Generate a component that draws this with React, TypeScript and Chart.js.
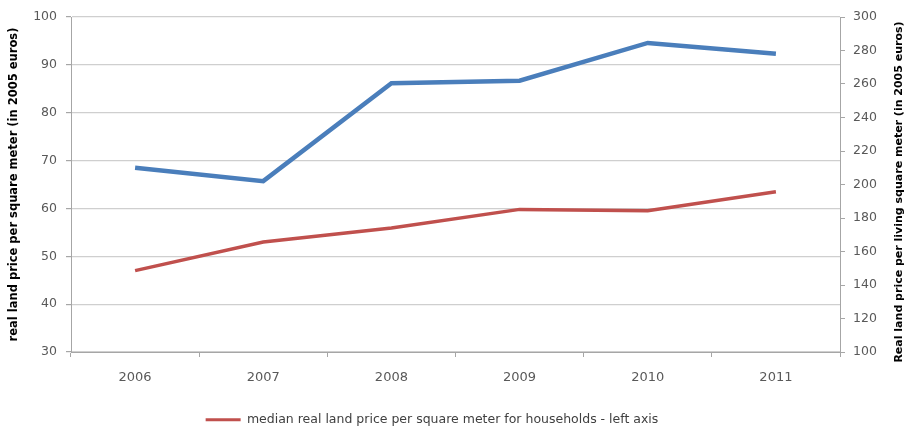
import React, { useEffect, useRef } from "react";
import { Chart, registerables } from "chart.js";

Chart.register(...registerables);

const years = ["2006", "2007", "2008", "2009", "2010", "2011"];
const householdPrices = [47.0, 53.0, 55.9, 59.8, 59.5, 63.5];
const livingPrices = [210, 202, 260.5, 262, 284.5, 278];
const householdLabel = "median real land price per square meter for households - left axis";
const livingLabel = "median real land price per living square meter - right axis";
const leftTitle = "real land price per square meter (in 2005 euros)";
const rightTitle = "Real land price per living square meter (in 2005 euros)";

const RED = "#c0504d";
const BLUE = "#4a7ebb";
const TICK = "#595959";
const AXIS = "#a6a6a6";
const FONT = "'DejaVu Sans', sans-serif";

const rightTitlePlugin = {
  id: "rightTitle",
  afterLayout(chart: any) {
    if (chart.legend) {
      chart.legend.right = chart.width - 48;
      chart.legend.top = chart.legend.top + 4;
      chart.legend.bottom = chart.legend.bottom + 4;
    }
  },
  afterDraw(chart: any) {
    const ctx = chart.ctx;
    ctx.save();
    ctx.translate(899, 192);
    ctx.rotate(-Math.PI / 2);
    ctx.textAlign = "center";
    ctx.textBaseline = "middle";
    ctx.fillStyle = "#000000";
    ctx.font = "bold 11px " + FONT;
    ctx.fillText(rightTitle, 0, 0);
    ctx.restore();
  },
};

export default function App() {
  const ref = useRef<HTMLCanvasElement | null>(null);
  useEffect(() => {
    if (!ref.current) return;
    const chart = new Chart(ref.current, {
      type: "line",
      data: {
        labels: years,
        datasets: [
          {
            label: householdLabel,
            data: householdPrices,
            borderColor: RED,
            backgroundColor: RED,
            borderWidth: 3.5,
            pointRadius: 0,
            tension: 0,
            yAxisID: "y",
          },
          {
            label: livingLabel,
            data: livingPrices,
            borderColor: BLUE,
            backgroundColor: BLUE,
            borderWidth: 4.5,
            pointRadius: 0,
            tension: 0,
            yAxisID: "y2",
          },
        ],
      },
      options: {
        responsive: false,
        animation: false,
        layout: { padding: { top: 17, left: 0, right: 0, bottom: 0 } },
        plugins: {
          tooltip: { enabled: false },
          legend: {
            position: "bottom",
            align: "center",
            labels: {
              font: { family: FONT, size: 12.5 },
              color: "#404040",
              boxWidth: 35,
              boxHeight: 3,
              padding: 7,
              generateLabels: () => [
                {
                  text: householdLabel,
                  fillStyle: RED,
                  strokeStyle: RED,
                  lineWidth: 0,
                  hidden: false,
                  datasetIndex: 0,
                  fontColor: "#404040",
                } as any,
              ],
            },
          },
        },
        scales: {
          x: {
            offset: true,
            grid: {
              offset: true,
              drawOnChartArea: false,
              drawTicks: true,
              tickLength: 5,
              color: AXIS,
            },
            border: { color: AXIS, width: 1 },
            ticks: {
              font: { family: FONT, size: 13 },
              color: TICK,
              padding: 13,
              maxRotation: 0,
            },
            afterFit: (scale: any) => {
              const lh = scale.chart.legend ? scale.chart.legend.height : 31;
              scale.height = 432 - 352 - lh;
            },
          },
          y: {
            position: "left",
            min: 30,
            max: 100,
            ticks: {
              stepSize: 10,
              font: { family: FONT, size: 12.5 },
              color: TICK,
              padding: 9,
            },
            grid: {
              color: "#cfcfcf",
              lineWidth: 1.2,
              tickLength: 5,
              tickColor: AXIS,
            },
            border: { color: AXIS, width: 1 },
            title: {
              display: true,
              text: leftTitle,
              color: "#000000",
              font: { family: FONT, size: 11.5, weight: "bold" },
              padding: { top: 7, bottom: 0 },
            },
            afterFit: (scale: any) => {
              scale.width = 71;
            },
          },
          y2: {
            position: "right",
            min: 100,
            max: 300,
            ticks: {
              stepSize: 20,
              font: { family: FONT, size: 12.5 },
              color: TICK,
              padding: 8,
            },
            grid: {
              drawOnChartArea: false,
              tickLength: 5,
              color: AXIS,
            },
            border: { color: AXIS, width: 1 },
            afterFit: (scale: any) => {
              scale.width = 72;
            },
          },
        },
      },
      plugins: [rightTitlePlugin],
    } as any);
    return () => chart.destroy();
  }, []);
  return (
    <div style={{ position: "absolute", left: 0, top: 0, width: 912, height: 432, background: "#ffffff" }}>
      <canvas ref={ref} width={912} height={432} />
    </div>
  );
}
